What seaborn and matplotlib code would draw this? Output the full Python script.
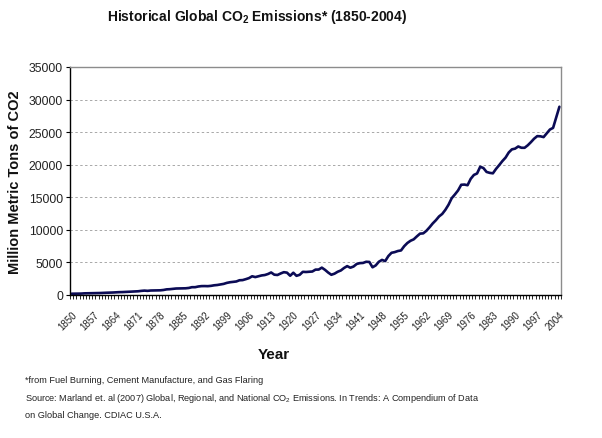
import numpy as np
import pandas as pd
import matplotlib
matplotlib.use("Agg")
import matplotlib.pyplot as plt
import seaborn as sns

# years on the category axis
years = list(range(1850, 2005))

# global CO2 emissions, million metric tons of CO2
emissions = [
    198, 198, 209, 216, 253, 260, 279, 282, 286, 304,
    334, 348, 356, 381, 411, 436, 447, 477, 495, 521,
    539, 572, 634, 675, 638, 689, 700, 711, 719, 770,
    865, 891, 939, 997, 1008, 1016, 1030, 1082, 1199, 1199,
    1305, 1364, 1371, 1357, 1404, 1489, 1536, 1613, 1705, 1859,
    1958, 2024, 2075, 2263, 2288, 2431, 2593, 2875, 2750, 2879,
    3003, 3066, 3223, 3458, 3117, 3073, 3304, 3502, 3432, 2956,
    3418, 2945, 3099, 3557, 3531, 3575, 3605, 3894, 3905, 4199,
    3861, 3447, 3106, 3275, 3568, 3766, 4144, 4433, 4188, 4371,
    4763, 4892, 4921, 5101, 5071, 4254, 4540, 5104, 5387, 5203,
    5977, 6480, 6582, 6751, 6839, 7492, 7983, 8324, 8544, 8999,
    9421, 9461, 9850, 10389, 10983, 11478, 12057, 12442, 13077, 13861,
    14862, 15431, 16047, 16920, 16953, 16854, 17836, 18430, 18654, 19688,
    19490, 18892, 18749, 18680, 19362, 19945, 20561, 21093, 21874, 22358,
    22468, 22798, 22603, 22596, 22977, 23461, 23990, 24389, 24360, 24239,
    24807, 25401, 25654, 27300, 28900,
]

label_years = years[::7]
y_ticks = [0, 5000, 10000, 15000, 20000, 25000, 30000, 35000]

sns.set_theme(style="white")
plt.rcParams["font.family"] = ["Liberation Sans", "DejaVu Sans"]
plt.rcParams["mathtext.default"] = "regular"

df = pd.DataFrame({"Year": years, "Emissions": emissions})

fig = plt.figure(figsize=(6.02, 4.39), dpi=100)
fig.patch.set_facecolor("white")
ax = fig.add_axes([70 / 602, 1 - 296 / 439, (561 - 70) / 602, (296 - 68) / 439])

sns.lineplot(data=df, x="Year", y="Emissions", ax=ax, color="#0b0b55", linewidth=1.9)

ax.set_xlim(years[0] - 0.5, years[-1] + 0.5)
ax.set_ylim(0, 35000)

# y axis
ax.set_yticks(y_ticks)
ax.set_yticklabels([str(v) for v in y_ticks], fontsize=8.8, color="#222222")
ax.tick_params(axis="y", which="major", direction="out", length=3, width=0.8,
               color="black", pad=2, left=True)
for v in y_ticks[1:-1]:
    ax.axhline(v, color="#a8a8a8", linestyle=(0, (2.5, 2.5)), linewidth=0.7, zorder=0)

# x axis: a tick between every year, labels every 7 years
ax.set_xticks(label_years)
ax.set_xticklabels([str(y) for y in label_years], rotation=45, ha="right",
                   va="top", rotation_mode="anchor", fontsize=7, color="#222222")
ax.tick_params(axis="x", which="major", length=0, pad=10)
ax.set_xticks(np.array(years + [years[-1] + 1]) - 0.5, minor=True)
ax.tick_params(axis="x", which="minor", direction="out", length=3, width=0.6,
               color="black", bottom=True)

ax.set_xlabel("")
ax.set_ylabel("")
ax.grid(False)

for side in ["left", "bottom"]:
    ax.spines[side].set_color("black")
    ax.spines[side].set_linewidth(1.0)
for side in ["top", "right"]:
    ax.spines[side].set_color("#8c8c8c")
    ax.spines[side].set_linewidth(1.0)

fig.text(257 / 602, 1 - 17 / 439, "Historical Global CO$_2$ Emissions* (1850-2004)",
         ha="center", va="center", fontsize=10, fontweight="bold", color="#111111")
fig.text(15 / 602, 1 - 182 / 439, "Million Metric Tons of CO2", rotation=90,
         ha="center", va="center", fontsize=10.5, fontweight="bold", color="#111111")
fig.text(274 / 602, 1 - 355 / 439, "Year", ha="center", va="center",
         fontsize=11, fontweight="bold", color="#111111")

notes = [
    "*from Fuel Burning, Cement Manufacture, and Gas Flaring",
    "Source: Marland et. al (2007) Global, Regional, and National CO$_2$ Emissions. In Trends: A Compendium of Data",
    "on Global Change. CDIAC U.S.A.",
]
for i, line in enumerate(notes):
    fig.text(25 / 602, 1 - (381 + 17.5 * i) / 439, line, ha="left", va="center",
             fontsize=6.6, color="#222222")

fig.savefig("out.png", dpi=100, facecolor="white")
